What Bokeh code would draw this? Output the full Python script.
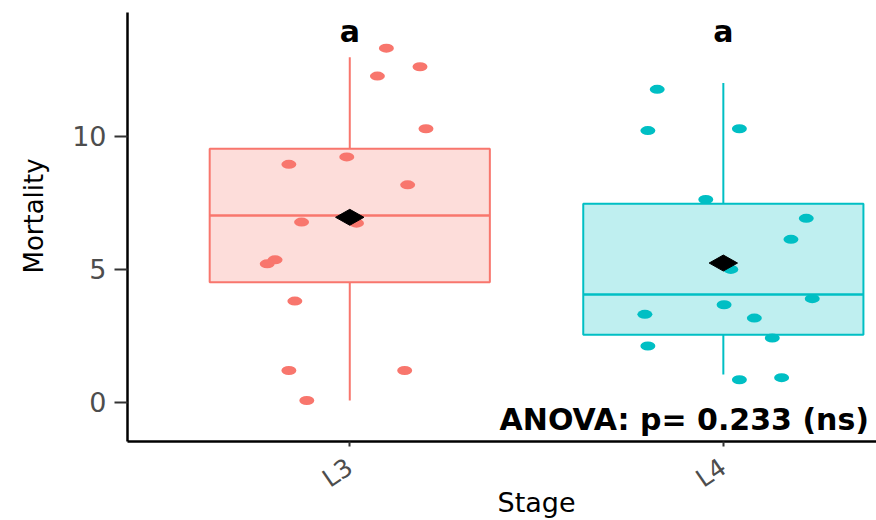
from bokeh.plotting import figure
from bokeh.models import Range1d, FixedTicker, Label, ColumnDataSource, LinearAxis
from bokeh.core.properties import value
from bokeh.embed import file_html
from bokeh.resources import INLINE

# ---- data ----
stages = ["L3", "L4"]
colors = ["#F8766D", "#00BFC4"]

q1 = [4.51, 2.53]
median = [7.02, 4.05]
q3 = [9.53, 7.46]
whisker_low = [0.06, 1.04]
whisker_high = [12.97, 12.0]
means = [6.95, 5.23]
letters = ["a", "a"]

l3_values = [13.31, 12.61, 12.26, 10.28, 8.94, 9.22, 8.17, 6.77, 6.73, 5.35, 5.20, 3.80, 1.19, 1.19, 0.06]
l3_jitter = [0.098, 0.188, 0.074, 0.204, -0.163, -0.008, 0.155, -0.129, 0.018, -0.200, -0.221, -0.147, -0.163, 0.147, -0.115]
l4_values = [11.76, 10.21, 10.28, 7.62, 6.91, 6.12, 4.99, 3.89, 3.66, 3.30, 3.16, 2.41, 2.11, 0.84, 0.92]
l4_jitter = [-0.177, -0.202, 0.043, -0.047, 0.222, 0.181, 0.020, 0.238, 0.002, -0.210, 0.083, 0.131, -0.202, 0.043, 0.156]

y_ticks = [0, 5, 10]
anova_text = "ANOVA: p= 0.233 (ns)"
x_title = "Stage"
y_title = "Mortality"

# ---- styling constants ----
BOX_W = 0.75
FILL_ALPHA = 0.25
LETTER_Y = 13.93
DIAMOND_HW = 0.038
DIAMOND_HH = 0.30
FONT = "DejaVu Sans"
X_TITLE_AT = 1.5    # centre of the (uncropped) panel
Y_TITLE_AT = 7.0

pos = [i + 1 for i in range(len(stages))]

p = figure(width=876, height=520, output_backend="svg", toolbar_location=None,
           x_range=Range1d(0.405, 2.41), y_range=Range1d(-1.48, 14.65),
           min_border_left=127, min_border_right=0, min_border_top=12, min_border_bottom=79)
p.outline_line_color = None
p.xgrid.visible = False
p.ygrid.visible = False
p.background_fill_color = "white"
p.border_fill_color = "white"

# boxes
box_src = ColumnDataSource(dict(x=pos, q1=q1, q3=q3, med=median, lo=whisker_low, hi=whisker_high,
                                color=colors,
                                x0=[x - BOX_W / 2 for x in pos], x1=[x + BOX_W / 2 for x in pos]))
p.segment(x0="x", y0="q3", x1="x", y1="hi", line_color="color", line_width=2, source=box_src)
p.segment(x0="x", y0="lo", x1="x", y1="q1", line_color="color", line_width=2, source=box_src)
p.vbar(x="x", bottom="q1", top="q3", width=BOX_W, fill_color="color", fill_alpha=FILL_ALPHA,
       line_color="color", line_width=2, source=box_src)
p.segment(x0="x0", y0="med", x1="x1", y1="med", line_color="color", line_width=2.5, source=box_src)

# jittered points
for i, (vals, jit) in enumerate([(l3_values, l3_jitter), (l4_values, l4_jitter)]):
    xs = [pos[i] + j for j in jit]
    p.ellipse(x=xs, y=vals, width=15, height=9, width_units="screen", height_units="screen",
              fill_color=colors[i], line_color=None)

# mean diamonds
dx = [[x - DIAMOND_HW, x, x + DIAMOND_HW, x] for x in pos]
dy = [[m, m + DIAMOND_HH, m, m - DIAMOND_HH] for m in means]
p.patches(xs=dx, ys=dy, fill_color="black", line_color="black", line_width=1)

# letters
p.text(x=pos, y=[LETTER_Y] * len(pos), text=letters, text_font=value(FONT), text_font_style="bold",
       text_font_size="30px", text_align="center", text_baseline="alphabetic", text_color="black")

# anova
p.add_layout(Label(x=2.39, y=-0.65, text=anova_text, text_font=FONT, text_font_style="bold",
                   text_font_size="30px", text_align="right", text_baseline="alphabetic",
                   text_color="black"))

# axes
p.yaxis.ticker = FixedTicker(ticks=y_ticks)
p.xaxis.ticker = FixedTicker(ticks=pos)
p.xaxis.major_label_overrides = {x: s for x, s in zip(pos, stages)}
for ax in (p.xaxis[0], p.yaxis[0]):
    ax.axis_line_color = "black"
    ax.axis_line_width = 2.5
    ax.major_tick_line_color = "#333333"
    ax.major_tick_line_width = 2
    ax.minor_tick_line_color = None
    ax.major_tick_in = 0
    ax.major_label_text_color = "#4D4D4D"
    ax.major_label_text_font = FONT
p.yaxis.major_tick_out = 13
p.yaxis.major_label_text_font_size = "27px"
p.yaxis.major_label_standoff = 8

p.xaxis.major_tick_out = 5
p.xaxis.major_label_text_font_size = "25px"
p.xaxis.major_label_orientation = 0.6
p.xaxis.major_label_standoff = 18


def title_axis(tick, text, size, standoff, orientation):
    ax = LinearAxis(ticker=FixedTicker(ticks=[tick]), major_label_overrides={tick: text})
    ax.axis_line_color = None
    ax.major_tick_line_color = None
    ax.minor_tick_line_color = None
    ax.major_tick_in = 0
    ax.major_tick_out = 0
    ax.major_label_standoff = standoff
    ax.major_label_text_font = FONT
    ax.major_label_text_font_size = size
    ax.major_label_text_color = "black"
    ax.major_label_orientation = orientation
    return ax


p.add_layout(title_axis(X_TITLE_AT, x_title, "27px", -22, "horizontal"), "below")
p.add_layout(title_axis(Y_TITLE_AT, y_title, "26px", 20, "vertical"), "left")

open("out.html", "w").write(file_html(p, INLINE))
